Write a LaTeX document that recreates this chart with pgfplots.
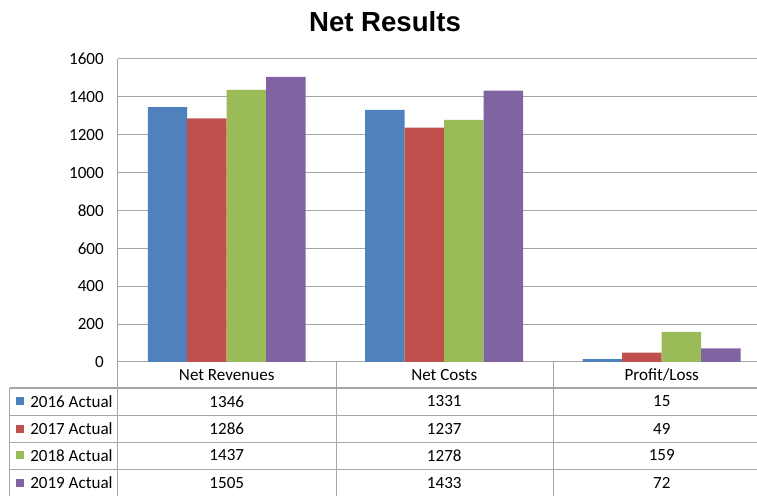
\documentclass[border=0pt]{standalone}
\usepackage{pgfplots}
\pgfplotsset{compat=1.18}
\usepackage{pgfplotstable}
\usepackage{fontspec}
\setmainfont{Carlito}
\newfontfamily\titlefont{Liberation Sans}
\definecolor{c16}{RGB}{79,129,189}
\definecolor{c17}{RGB}{192,80,77}
\definecolor{c18}{RGB}{155,187,89}
\definecolor{c19}{RGB}{128,100,162}
\definecolor{gridc}{RGB}{166,166,166}
\pgfplotstableread{
x a16 a17 a18 a19
0 1346 1286 1437 1505
1 1331 1237 1278 1433
2 15 49 159 72
}\data
\begin{document}
\fontsize{12.8}{15}\selectfont
\begin{tikzpicture}
\begin{axis}[
  at={(0,0)}, anchor=south west,
  width=479.25pt, height=227.25pt, scale only axis,
  xmin=-0.5, xmax=2.438, ymin=0, ymax=1600,
  ytick={0,200,...,1600}, xtick=\empty,
  axis x line*=bottom, axis y line*=left,
  axis line style={draw=gridc, line width=0.75pt, -},
  ymajorgrids, grid style={draw=gridc, line width=0.75pt},
  major tick length=0pt,
  yticklabel style={anchor=east, inner sep=0pt, xshift=-10.5pt, font=\fontsize{12.8}{15}\selectfont},
  /pgf/number format/assume math mode=true,
  /pgf/number format/1000 sep={},
  ybar, bar width=0.1816,
]
\addplot[fill=c16, draw=none, bar shift=-0.2724] table[x=x,y=a16]{\data};
\addplot[fill=c17, draw=none, bar shift=-0.0908] table[x=x,y=a17]{\data};
\addplot[fill=c18, draw=none, bar shift=0.0908] table[x=x,y=a18]{\data};
\addplot[fill=c19, draw=none, bar shift=0.2724] table[x=x,y=a19]{\data};
\end{axis}
% title
\node[font=\titlefont\bfseries\fontsize{20.7}{24}\selectfont, inner sep=0pt] at (200.25pt,255pt) {Net Results};
% data table
\begin{scope}[draw=gridc, line width=0.75pt]
\foreach \yy in {-19.5,-39.75,-60,-80.25}
  \draw (-81pt,\yy pt) -- (479.25pt,\yy pt);
\draw (-81pt,-19.5pt) -- (-81pt,-100.5pt);
\draw (0pt,0pt) -- (0pt,-100.5pt);
\draw (163.5pt,0pt) -- (163.5pt,-100.5pt);
\draw (326.25pt,0pt) -- (326.25pt,-100.5pt);
\end{scope}
\node at (81.56pt,-9.75pt) {Net Revenues};
\node at (244.69pt,-9.75pt) {Net Costs};
\node at (407.81pt,-9.75pt) {Profit/Loss};
\foreach \yy/\cc/\lab/\va/\vb/\vc in {
  -29.6/c16/2016 Actual/1346/1331/15,
  -49.9/c17/2017 Actual/1286/1237/49,
  -70.1/c18/2018 Actual/1437/1278/159,
  -90.4/c19/2019 Actual/1505/1433/72}{
  \fill[\cc] (-76.5pt,\yy pt-3pt) rectangle (-70.5pt,\yy pt+3pt);
  \node[anchor=west, inner sep=0pt] at (-66pt,\yy pt) {\lab};
  \node at (81.56pt,\yy pt) {\va};
  \node at (244.69pt,\yy pt) {\vb};
  \node at (407.81pt,\yy pt) {\vc};
}
\pgfresetboundingbox
\useasboundingbox (-88.5pt,-100.5pt) rectangle (479.25pt,271.5pt);
\end{tikzpicture}
\end{document}
